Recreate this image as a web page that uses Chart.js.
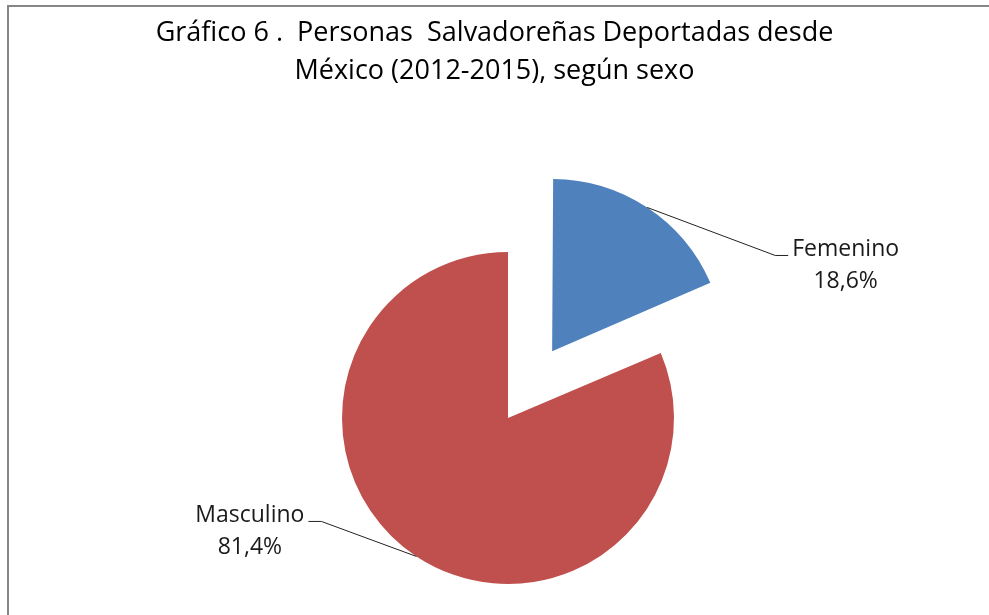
<!DOCTYPE html>
<html>
<head>
<meta charset="utf-8">
<script src="https://cdn.jsdelivr.net/npm/chart.js@4"></script>
<style>
  html, body { margin: 0; padding: 0; background: #fff; overflow: hidden; }
  #wrap { position: relative; width: 989px; height: 615px; overflow: hidden; }
  #pie { position: absolute; left: 0; top: 0; }
  #frame { position: absolute; left: 7px; top: 5px; width: 1200px; height: 1000px;
           border-left: 2px solid #868686; border-top: 2px solid #868686; pointer-events: none; }
</style>
</head>
<body>
<div id="wrap">
  <canvas id="pie" width="989" height="736"></canvas>
  <div id="frame"></div>
</div>
<script>
const labels_sexo = ['Femenino', 'Masculino'];
const valores = [18.6, 81.4];
const colores = ['#4F81BD', '#C0504D'];
// chart.js draws the slice pushed out by offset / 4
const explode = [320, 0];
// where the leader line bends, relative to the slice edge
const label_offsets = [[128, 48], [-95, -35]];

const pieLabels = {
	id: 'pieLabels',
	afterLayout(chart) {
		// pie sits a bit right of the title centre
		chart.chartArea.left += 27;
	},
	afterDatasetsDraw(chart) {
		const ctx = chart.ctx;
		const meta = chart.getDatasetMeta(0);
		ctx.save();
		ctx.font = '23px "Open Sans"';
		ctx.fillStyle = '#1a1a1a';
		ctx.strokeStyle = '#222';
		ctx.lineWidth = 1;
		meta.data.forEach((arc, i) => {
			const p = arc.getProps(['x', 'y', 'startAngle', 'endAngle', 'outerRadius', 'circumference', 'options']);
			const mid = (p.startAngle + p.endAngle) / 2;
			const off = (p.options.offset || 0) / 4;
			const fix = 1 - Math.sin(Math.min(Math.PI, p.circumference));
			const r = p.outerRadius + off * (1 + fix);
			const ex = p.x + Math.cos(mid) * r;
			const ey = p.y + Math.sin(mid) * r;
			const bx = ex + label_offsets[i][0];
			const by = ey + label_offsets[i][1];
			const side = label_offsets[i][0] > 0 ? 1 : -1;
			const hx = bx + side * 13;
			ctx.beginPath();
			ctx.moveTo(ex, ey);
			ctx.lineTo(bx, by);
			ctx.lineTo(hx, by);
			ctx.stroke();
			const l1 = labels_sexo[i];
			const l2 = valores[i].toFixed(1).replace('.', ',') + '%';
			const w1 = ctx.measureText(l1).width;
			const cx = side > 0 ? hx + 4 + w1 / 2 : hx - 4 - w1 / 2;
			ctx.textAlign = 'center';
			ctx.textBaseline = 'alphabetic';
			ctx.fillText(l1, cx, by + 1);
			ctx.fillText(l2, cx, by + 33);
		});
		ctx.restore();
	}
};

const data_pie = {
	labels: labels_sexo,
	datasets: [{
		data: valores,
		backgroundColor: colores,
		borderWidth: 0,
		offset: explode,
	}]
};

const config_pie = {
	type: 'pie',
	data: data_pie,
	options: {
		responsive: false,
		animation: false,
		devicePixelRatio: 1,
		radius: 166,
		layout: { padding: 0 },
		plugins: {
			legend: { display: false },
			tooltip: { enabled: false },
			title: {
				display: true,
				text: ['Gráfico 6 .  Personas  Salvadoreñas Deportadas desde', 'México (2012-2015), según sexo'],
				color: '#000',
				font: { family: 'Open Sans', size: 27, weight: 'normal', lineHeight: 1.407 },
				padding: { top: 14, bottom: 10 }
			}
		}
	},
	plugins: [pieLabels]
};

const myPie = new Chart(document.getElementById('pie'), config_pie);
</script>
</body>
</html>
